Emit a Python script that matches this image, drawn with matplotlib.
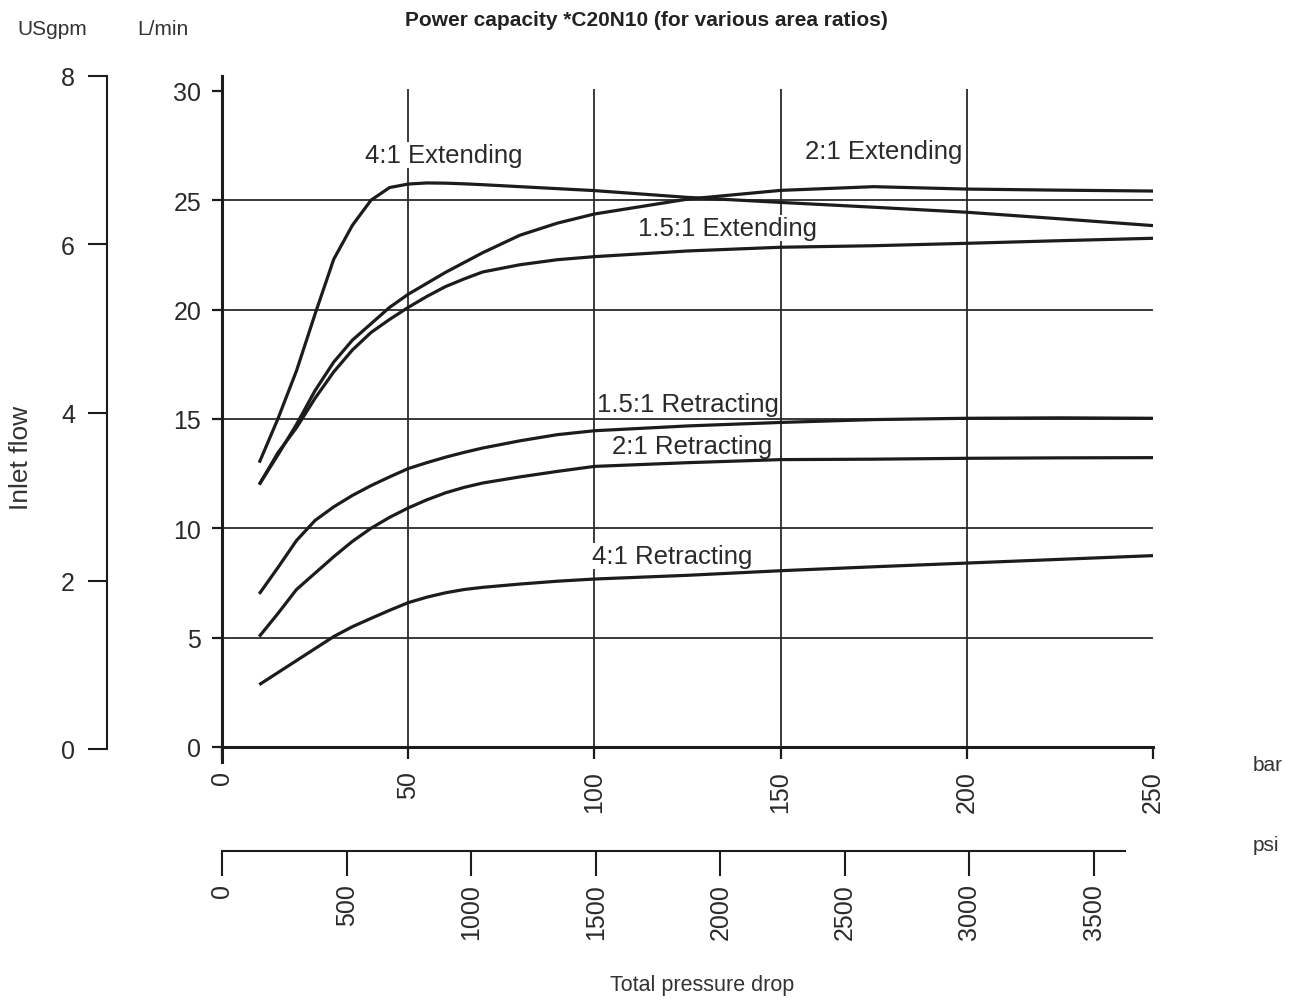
import matplotlib.pyplot as plt

plt.rcParams['font.family'] = ['Liberation Sans', 'DejaVu Sans']

# pressure drop (bar) where the curves were read
pressure_bar = [10, 15, 20, 25, 30, 35, 40, 45, 50, 55, 60, 65, 70, 80, 90, 100,
                125, 150, 175, 200, 225, 250]

# inlet flow, L/min
ext_4_1 = [13.0, 15.0, 17.2, 19.8, 22.3, 23.85, 25.0, 25.58, 25.74, 25.79, 25.78,
           25.75, 25.71, 25.62, 25.53, 25.44, 25.13, 24.9, 24.68, 24.45, 24.15, 23.84]
ext_2_1 = [12.0, 13.35, 14.75, 16.3, 17.6, 18.6, 19.35, 20.1, 20.7, 21.2, 21.7,
           22.15, 22.6, 23.4, 23.95, 24.37, 25.05, 25.45, 25.62, 25.51, 25.46, 25.42]
ext_15_1 = [12.0, 13.45, 14.6, 15.95, 17.15, 18.15, 18.95, 19.55, 20.1, 20.6, 21.05,
            21.4, 21.72, 22.05, 22.28, 22.42, 22.68, 22.85, 22.92, 23.03, 23.15, 23.26]
ret_15_1 = [7.0, 8.2, 9.44, 10.36, 10.98, 11.5, 11.95, 12.35, 12.73, 13.0, 13.25,
            13.47, 13.67, 14.0, 14.28, 14.46, 14.68, 14.84, 14.97, 15.03, 15.05, 15.03]
ret_2_1 = [5.05, 6.1, 7.2, 7.95, 8.7, 9.4, 10.0, 10.5, 10.93, 11.3, 11.62,
           11.87, 12.07, 12.35, 12.6, 12.83, 13.0, 13.14, 13.16, 13.2, 13.22, 13.23]
ret_4_1 = [2.85, 3.4, 3.95, 4.5, 5.05, 5.5, 5.88, 6.25, 6.6, 6.85, 7.05,
           7.2, 7.3, 7.45, 7.58, 7.68, 7.85, 8.06, 8.24, 8.41, 8.58, 8.75]

curves = [ext_4_1, ext_2_1, ext_15_1, ret_15_1, ret_2_1, ret_4_1]
curve_names = ["4:1 Extending", "2:1 Extending", "1.5:1 Extending",
               "1.5:1 Retracting", "2:1 Retracting", "4:1 Retracting"]

bar_ticks = [0, 50, 100, 150, 200, 250]
lmin_ticks = [0, 5, 10, 15, 20, 25, 30]
usgpm_ticks = [0, 2, 4, 6, 8]
psi_ticks = [0, 500, 1000, 1500, 2000, 2500, 3000, 3500]

# label placement (bar, L/min) for each curve name
label_pos = [(38.4, 27.07), (156.6, 27.25), (111.7, 23.73),
             (100.7, 15.68), (104.7, 13.76), (99.4, 8.73)]

W, H = 1293, 1003
INK = '#1c1c1c'
TXT = '#2a2a2a'


def box(x0, y0, x1, y1):
    return [x0 / W, 1 - y1 / H, (x1 - x0) / W, (y1 - y0) / H]


fig = plt.figure(figsize=(W / 100, H / 100), dpi=100)

# main L/min axes
ax = fig.add_axes(box(222, 77, 1153, 763))
ax.set_xlim(0, 250)
ax.set_ylim(-0.686, 30.68)
ax.patch.set_visible(False)
for s in ['top', 'right']:
    ax.spines[s].set_visible(False)
ax.spines['bottom'].set_position(('data', 0))
ax.spines['bottom'].set_bounds(0, 250)
for s in ['bottom', 'left']:
    ax.spines[s].set_linewidth(2.2)
    ax.spines[s].set_color(INK)

ax.set_xticks(bar_ticks)
ax.set_xticklabels([str(t) for t in bar_ticks], rotation=90, fontsize=18)
ax.set_yticks(lmin_ticks)
ax.set_yticklabels([str(t) for t in lmin_ticks], fontsize=18)
ax.tick_params(axis='x', direction='out', length=8.5, width=1.6, pad=8, colors=INK, labelcolor=TXT)
ax.tick_params(axis='y', direction='out', length=7, width=1.6, pad=8, colors=INK, labelcolor=TXT)

ax.hlines(lmin_ticks[1:-1], 0, 250, color='#2a2a2a', lw=1.3, zorder=1)
ax.vlines(bar_ticks[1:-1], 0, 30.1, color='#2a2a2a', lw=1.3, zorder=1)

for vals in curves:
    ax.plot(pressure_bar, vals, color=INK, lw=2.3, solid_capstyle='butt',
            solid_joinstyle='round', zorder=3)

for name, (lx, ly) in zip(curve_names, label_pos):
    ax.text(lx, ly, name, ha='left', va='center', fontsize=18.5, color=TXT,
            bbox=dict(fc='white', ec='none', pad=1), zorder=2)

# USgpm axis
ax2 = fig.add_axes(box(107, 77, 108, 750))
ax2.set_ylim(0, 8)
ax2.patch.set_visible(False)
for s in ['top', 'right', 'bottom']:
    ax2.spines[s].set_visible(False)
ax2.spines['left'].set_linewidth(1.5)
ax2.spines['left'].set_color(INK)
ax2.set_xticks([])
ax2.set_yticks(usgpm_ticks)
ax2.set_yticklabels([str(t) for t in usgpm_ticks], fontsize=18)
ax2.tick_params(axis='y', direction='out', length=14, width=1.5, pad=9, colors=INK, labelcolor=TXT)

# psi axis
ax3 = fig.add_axes(box(222, 851, 1153, 852))
ax3.set_xlim(0, 3737)
ax3.patch.set_visible(False)
for s in ['top', 'right', 'left']:
    ax3.spines[s].set_visible(False)
ax3.spines['bottom'].set_bounds(0, 3626)
ax3.spines['bottom'].set_linewidth(1.5)
ax3.spines['bottom'].set_color(INK)
ax3.set_yticks([])
ax3.set_xticks(psi_ticks)
ax3.set_xticklabels([str(t) for t in psi_ticks], rotation=90, fontsize=18)
ax3.tick_params(axis='x', direction='out', length=18, width=1.5, pad=5, colors=INK, labelcolor=TXT)

# unit labels and titles
fig.text(646 / W, 1 - 20 / H, "Power capacity *C20N10 (for various area ratios)",
         ha='center', va='center', fontsize=15, fontweight='bold', color='#222')
fig.text(52 / W, 1 - 30 / H, "USgpm", ha='center', va='center', fontsize=15, color='#333')
fig.text(163 / W, 1 - 30 / H, "L/min", ha='center', va='center', fontsize=15, color='#333')
fig.text(21 / W, 1 - 458 / H, "Inlet flow", ha='center', va='center', rotation=90,
         fontsize=19, color='#333')
fig.text(1253 / W, 1 - 766 / H, "bar", ha='left', va='center', fontsize=15, color='#333')
fig.text(1253 / W, 1 - 846 / H, "psi", ha='left', va='center', fontsize=15, color='#333')
fig.text(702 / W, 1 - 986 / H, "Total pressure drop", ha='center', va='center',
         fontsize=15.5, color='#333')

fig.savefig("out.png", dpi=100)
